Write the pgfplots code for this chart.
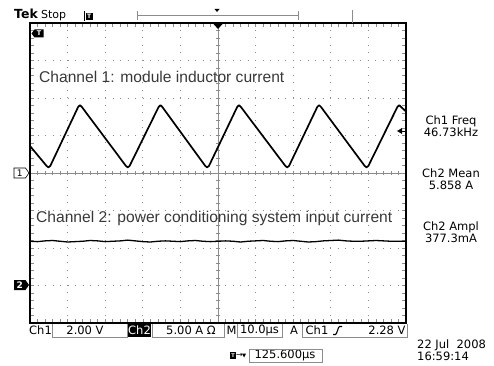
\documentclass[border=0pt]{standalone}
\usepackage{fontspec}
\setmainfont{Liberation Sans}
\newfontfamily\tek{DejaVu Sans}
\usepackage{pgfplots}
\pgfplotsset{compat=1.18}
\definecolor{ann}{gray}{0.22}
\definecolor{grd}{gray}{0.55}
\begin{document}
\begin{tikzpicture}[x=1pt,y=1pt]
\path[use as bounding box] (0,0) rectangle (494,365);
% center crosshair
\draw[grd, line width=0.6pt] (30,192) -- (406,192);
\draw[grd, line width=0.6pt] (218,42) -- (218,342);
\foreach \k in {1,...,49} \draw[grd, line width=0.6pt] ({30+7.52*\k},189.8) -- ({30+7.52*\k},194.2);
\foreach \k in {1,...,39} \draw[grd, line width=0.6pt] (215.8,{42+7.5*\k}) -- (220.2,{42+7.5*\k});
\begin{axis}[at={(30pt,42pt)}, anchor=south west, scale only axis,
  width=376pt, height=300pt, xmin=0, xmax=10, ymin=-4, ymax=4,
  axis lines=box, axis line style={line width=2.2pt, black},
  xtick={0,...,10}, ytick={-4,...,4}, minor x tick num=4, minor y tick num=4,
  xticklabels={}, yticklabels={}, tick align=inside, tick pos=both,
  major tick length=4pt, minor tick length=4pt,
  tick style={grd, line width=0.6pt},
  grid=major, major grid style={grd, line width=0.9pt, dash pattern=on 0.9pt off 6.6pt},
  clip=true]
\addplot[black, line width=1.7pt, line join=round] coordinates {
(0,0.72) (0.44,0.19) (0.49,0.15) (0.54,0.19)
(1.28,1.76) (1.33,1.81) (1.38,1.76)
(2.55,0.19) (2.60,0.15) (2.65,0.19)
(3.42,1.76) (3.47,1.81) (3.52,1.76)
(4.66,0.19) (4.71,0.15) (4.76,0.19)
(5.51,1.76) (5.56,1.81) (5.61,1.76)
(6.79,0.19) (6.84,0.15) (6.89,0.19)
(7.64,1.76) (7.69,1.81) (7.74,1.76)
(8.90,0.19) (8.95,0.15) (9.00,0.19)
(9.77,1.76) (9.82,1.81) (9.87,1.76)
(10,1.64)};
\addplot[black, line width=1.3pt] coordinates {
(0,-1.82) (0.2,-1.83) (0.4,-1.81) (0.6,-1.80) (0.8,-1.82) (1.0,-1.84) (1.2,-1.83) (1.4,-1.82) (1.6,-1.80) (1.8,-1.81)
(2.0,-1.83) (2.2,-1.82) (2.4,-1.81) (2.6,-1.79) (2.8,-1.81) (3.0,-1.83) (3.2,-1.84) (3.4,-1.82) (3.6,-1.81) (3.8,-1.82)
(4.0,-1.83) (4.2,-1.81) (4.4,-1.80) (4.6,-1.82) (4.8,-1.83) (5.0,-1.82) (5.2,-1.81) (5.4,-1.82) (5.6,-1.84) (5.8,-1.82)
(6.0,-1.81) (6.2,-1.80) (6.4,-1.82) (6.6,-1.83) (6.8,-1.81) (7.0,-1.80) (7.2,-1.82) (7.4,-1.84) (7.6,-1.83) (7.8,-1.81)
(8.0,-1.80) (8.2,-1.79) (8.4,-1.81) (8.6,-1.82) (8.8,-1.82) (9.0,-1.81) (9.2,-1.80) (9.4,-1.81) (9.6,-1.82) (9.8,-1.82) (10,-1.82)};
\end{axis}
% annotations
\node[anchor=west, inner sep=0, text=ann, font=\fontsize{15.6}{18}\selectfont] at (39,288) {Channel 1: module inductor current};
\node[anchor=west, inner sep=0, text=ann, font=\fontsize{15.6}{18}\selectfont] at (36,147) {Channel 2: power conditioning system input current};
% top bar
\node[anchor=base west, inner sep=0, font=\tek\bfseries\fontsize{12.5}{14}\selectfont] at (14,346) {Tek};
\node[anchor=base west, inner sep=0, font=\tek\fontsize{11}{12}\selectfont] at (41,346) {Stop};
\draw[line width=0.8pt] (84,344) -- (84,354);
\fill (85.5,344.5) rectangle (93,352);
\node[white, inner sep=0, font=\tek\bfseries\fontsize{6}{7}\selectfont] at (89.2,348.2) {T};
\draw[grd, line width=0.8pt] (137,345) -- (137,354) (137,350) -- (298,350) (298,345) -- (298,354);
\fill (214.5,356) -- (219.5,356) -- (217,353) -- cycle;
\draw[grd, line width=0.8pt] (352,342) -- (352,355);
% trigger position on frame
\fill (213.5,341) -- (222.5,341) -- (218,336) -- cycle;
% trigger point marker inside
\fill (31.5,331.5) -- (34.5,335.5) -- (43.5,335.5) -- (43.5,327.5) -- (34.5,327.5) -- cycle;
\node[white, inner sep=0, font=\tek\bfseries\fontsize{6.5}{7}\selectfont] at (39,331.5) {T};
% channel ground markers
\draw[line width=0.6pt, fill=white] (14,197) -- (25.5,197) -- (29,192) -- (25.5,187) -- (14,187) -- cycle;
\node[inner sep=0, font=\tek\fontsize{9}{10}\selectfont] at (19.8,192) {1};
\fill (14,85) -- (25.5,85) -- (29,80) -- (25.5,75) -- (14,75) -- cycle;
\node[white, inner sep=0, font=\tek\bfseries\fontsize{9}{10}\selectfont] at (19.8,80) {2};
% trigger level arrow
\fill (397,234) -- (402,237) -- (402,231) -- cycle;
\draw[line width=0.8pt] (402,234) -- (405,234);
% right readouts
\begin{scope}[every node/.style={inner sep=0, font=\tek\fontsize{11.5}{13}\selectfont}]
\node at (451,244) {Ch1 Freq};
\node at (451,233) {46.73kHz};
\node at (451,192) {Ch2 Mean};
\node at (451,180) {5.858 A};
\node at (451,138) {Ch2 Ampl};
\node at (451,127) {377.3mA};
% bottom readouts
\draw[grd, line width=0.7pt] (52,41) -- (52,28) -- (127,28) -- (127,41);
\draw[grd, line width=0.7pt] (152,41) -- (152,28) -- (224,28) -- (224,41);
\draw[grd, line width=0.7pt] (237,41) -- (237,28) -- (282,28) -- (282,41);
\draw[grd, line width=0.7pt] (302,41) -- (302,28) -- (407,28) -- (407,41);
\node[anchor=west] at (29,34.5) {Ch1};
\node at (85,34.5) {2.00 V};
\fill (128,28) rectangle (151,41);
\node[text=white] at (139.5,34.5) {Ch2};
\node at (191,34.5) {5.00 A Ω};
\node at (231.5,34.5) {M};
\node at (259.5,34.5) {10.0µs};
\node at (294,34.5) {A};
\node at (317,34.5) {Ch1};
\node at (387,34.5) {2.28 V};
\node at (285,9.5) {125.600µs};
\node[anchor=west] at (417,20) {22 Jul\ \ 2008};
\node[anchor=west] at (417,8.5) {16:59:14};
\end{scope}
\draw[line width=1.1pt] (333,30.5) -- (335.5,30.5) .. controls (337,30.5) and (338,38.5) .. (339.5,38.5) -- (342,38.5);
\draw[grd, line width=0.7pt] (249,3) rectangle (322,16);
\fill (230,6) rectangle (236,13);
\node[white, inner sep=0, font=\tek\bfseries\fontsize{5}{6}\selectfont] at (233,9.5) {T};
\node[inner sep=0, font=\tek\fontsize{8}{9}\selectfont] at (239.5,9.5) {→};
\fill (242,11.5) -- (246,11.5) -- (244,7.5) -- cycle;
\end{tikzpicture}
\end{document}
